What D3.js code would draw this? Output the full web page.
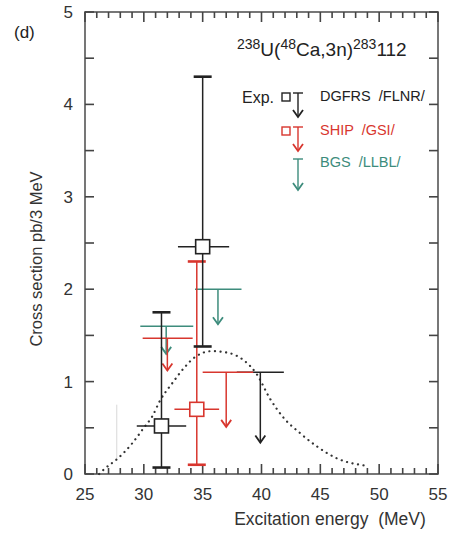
<!DOCTYPE html>
<html>
<head>
<meta charset="utf-8">
<script src="https://cdn.jsdelivr.net/npm/d3@7"></script>
<style>
  body { margin: 0; background: #fff; }
  svg { font-family: "Liberation Sans", Arial, sans-serif; }
  text { white-space: pre; }
</style>
</head>
<body>
<svg id="chart" width="461" height="533"></svg>
<script>
// excitation energy (MeV) / cross section (pb per 3 MeV)
var xTicks = [25, 30, 35, 40, 45, 50, 55];
var yTicks = [0, 1, 2, 3, 4, 5];

// measured points: e, s, horizontal range, vertical range
var dgfrsPoints = [
  { e: 31.5, s: 0.52, eLo: 29.4, eHi: 33.6, sLo: 0.07, sHi: 1.75 },
  { e: 35.0, s: 2.46, eLo: 32.9, eHi: 37.25, sLo: 1.38, sHi: 4.3 }
];
var shipPoints = [
  { e: 34.5, s: 0.70, eLo: 32.6, eHi: 36.4, sLo: 0.10, sHi: 2.30 }
];

// upper limits: bar from eLo..eHi at s, arrow at e going down to "to"
var dgfrsLimits = [
  { e: 39.9, s: 1.1, eLo: 37.9, eHi: 41.9, to: 0.34 }
];
var shipLimits = [
  { e: 32.0, s: 1.47, eLo: 29.9, eHi: 34.15, to: 1.12 },
  { e: 37.0, s: 1.1, eLo: 35.0, eHi: 39.3, to: 0.51 }
];
var bgsLimits = [
  { e: 31.9, s: 1.6, eLo: 29.7, eHi: 34.2, to: 1.30 },
  { e: 36.3, s: 2.0, eLo: 34.35, eHi: 38.3, to: 1.62 }
];

// calculated excitation function (dotted)
var calcCurve = [
  [26.2, 0.0], [26.7, 0.06], [27.8, 0.17], [29.0, 0.33], [30.0, 0.50],
  [30.7, 0.62], [31.4, 0.80], [32.4, 0.98], [33.5, 1.16], [34.4, 1.27],
  [35.8, 1.33], [37.2, 1.31], [38.6, 1.22], [39.6, 1.08], [40.7, 0.82],
  [41.8, 0.62], [43.3, 0.44], [44.7, 0.30], [46.4, 0.17], [48.9, 0.09]
];

// faint stray vertical mark in the scan
var strayMark = [{ e: 27.7, sLo: 0.15, sHi: 0.75 }];

var BLACK = "#222", RED = "#d8362e", TEAL = "#3d8c7c", FRAME = "#555";

var svg = d3.select("#chart");
var plotL = 85, plotR = 438, plotT = 12, plotB = 474;

var x = d3.scaleLinear().domain([25, 55]).range([plotL, plotR]);
var y = d3.scaleLinear().domain([0, 5]).range([plotB, plotT]);

svg.append("rect").attr("x", plotL).attr("y", plotT)
  .attr("width", plotR - plotL).attr("height", plotB - plotT)
  .attr("fill", "none").attr("stroke", FRAME).attr("stroke-width", 1.6);

// inward ticks on all four sides
var minorX = d3.range(25, 56, 1);
var minorY = d3.range(0, 5.01, 0.5);
var tickG = svg.append("g");

[plotB, plotT].forEach(function(edge) {
  var dir = edge === plotB ? -1 : 1;
  tickG.append("g").selectAll("line").data(minorX).enter().append("line")
    .attr("x1", function(d) { return x(d); }).attr("x2", function(d) { return x(d); })
    .attr("y1", edge)
    .attr("y2", function(d) { return edge + dir * (d % 5 === 0 ? 10 : 6); })
    .attr("stroke", "#444").attr("stroke-width", 1.6);
});
[plotL, plotR].forEach(function(edge) {
  var dir = edge === plotL ? 1 : -1;
  tickG.append("g").selectAll("line").data(minorY).enter().append("line")
    .attr("y1", function(d) { return y(d); }).attr("y2", function(d) { return y(d); })
    .attr("x1", edge).attr("x2", edge + dir * 9)
    .attr("stroke", "#444").attr("stroke-width", 1.6);
});

svg.append("g").selectAll("text").data(xTicks).enter().append("text")
  .attr("x", function(d) { return x(d); }).attr("y", 500)
  .attr("text-anchor", "middle").attr("font-size", 17).attr("fill", "#333")
  .text(function(d) { return d; });
svg.append("g").selectAll("text").data(yTicks).enter().append("text")
  .attr("x", 73).attr("y", function(d) { return y(d) + 6; })
  .attr("text-anchor", "end").attr("font-size", 17).attr("fill", "#333")
  .text(function(d) { return d; });

svg.append("text").attr("x", 330).attr("y", 525).attr("text-anchor", "middle")
  .attr("font-size", 17.5).attr("fill", "#333").text("Excitation energy  (MeV)");
svg.append("text").attr("transform", "translate(42,259) rotate(-90)")
  .attr("text-anchor", "middle").attr("font-size", 16.5).attr("fill", "#333")
  .text("Cross section pb/3 MeV");

svg.append("text").attr("x", 14).attr("y", 38).attr("font-size", 17).attr("fill", "#222").text("(d)");

var title = svg.append("text").attr("x", 237).attr("y", 56).attr("font-size", 19).attr("fill", "#222");
title.append("tspan").attr("font-size", 14).attr("dy", -7).text("238");
title.append("tspan").attr("dy", 7).text("U(");
title.append("tspan").attr("font-size", 14).attr("dy", -7).text("48");
title.append("tspan").attr("dy", 7).text("Ca,3n)");
title.append("tspan").attr("font-size", 14).attr("dy", -7).text("283");
title.append("tspan").attr("dy", 7).text("112");

// stray mark
svg.append("g").selectAll("line").data(strayMark).enter().append("line")
  .attr("x1", function(d) { return x(d.e); }).attr("x2", function(d) { return x(d.e); })
  .attr("y1", function(d) { return y(d.sLo); }).attr("y2", function(d) { return y(d.sHi); })
  .attr("stroke", "#d8d8d8").attr("stroke-width", 1);

// dotted curve
svg.append("path").datum(calcCurve)
  .attr("d", d3.line().x(function(d) { return x(d[0]); }).y(function(d) { return y(d[1]); })
    .curve(d3.curveMonotoneX))
  .attr("fill", "none").attr("stroke", "#333").attr("stroke-width", 2.2)
  .attr("stroke-linecap", "round").attr("stroke-dasharray", "0.1,5.5");

function arrowHead(g, cx, cy, color) {
  g.append("path").attr("d", "M" + (cx - 5) + "," + (cy - 7) + "L" + cx + "," + cy + "L" + (cx + 5) + "," + (cy - 7))
    .attr("fill", "none").attr("stroke", color).attr("stroke-width", 1.8);
}

function drawLimits(data, color) {
  var g = svg.append("g");
  data.forEach(function(d) {
    g.append("line").attr("x1", x(d.eLo)).attr("x2", x(d.eHi))
      .attr("y1", y(d.s)).attr("y2", y(d.s)).attr("stroke", color).attr("stroke-width", 1.5);
    g.append("line").attr("x1", x(d.e)).attr("x2", x(d.e))
      .attr("y1", y(d.s)).attr("y2", y(d.to)).attr("stroke", color).attr("stroke-width", 1.5);
    arrowHead(g, x(d.e), y(d.to), color);
  });
}

function drawPoints(data, color) {
  var g = svg.append("g");
  data.forEach(function(d) {
    g.append("line").attr("x1", x(d.e)).attr("x2", x(d.e))
      .attr("y1", y(d.sLo)).attr("y2", y(d.sHi)).attr("stroke", color).attr("stroke-width", 1.5);
    [d.sLo, d.sHi].forEach(function(v) {
      g.append("line").attr("x1", x(d.e) - 9).attr("x2", x(d.e) + 9)
        .attr("y1", y(v)).attr("y2", y(v)).attr("stroke", color).attr("stroke-width", 2.6);
    });
    g.append("line").attr("x1", x(d.eLo)).attr("x2", x(d.eHi))
      .attr("y1", y(d.s)).attr("y2", y(d.s)).attr("stroke", color).attr("stroke-width", 1.5);
    g.append("rect").attr("x", x(d.e) - 7).attr("y", y(d.s) - 7)
      .attr("width", 14).attr("height", 14)
      .attr("fill", "#fff").attr("stroke", color).attr("stroke-width", 1.6);
  });
}

drawLimits(dgfrsLimits, BLACK);
drawLimits(bgsLimits, TEAL);
drawLimits(shipLimits, RED);
drawPoints(shipPoints, RED);
drawPoints(dgfrsPoints, BLACK);

// legend
var legend = [
  { label: "DGFRS  /FLNR/", color: BLACK, square: true, y: 97, arrowTo: 117 },
  { label: "SHIP  /GSI/", color: RED, square: true, y: 131, arrowTo: 151 },
  { label: "BGS  /LLBL/", color: TEAL, square: false, y: 163, arrowTo: 190 }
];
svg.append("text").attr("x", 242).attr("y", 103).attr("font-size", 16).attr("fill", "#222").text("Exp.");
var lg = svg.append("g");
legend.forEach(function(d) {
  var cx = 298;
  lg.append("line").attr("x1", cx - 5).attr("x2", cx + 5).attr("y1", d.y - 4).attr("y2", d.y - 4)
    .attr("stroke", d.color).attr("stroke-width", 1.4);
  lg.append("line").attr("x1", cx).attr("x2", cx).attr("y1", d.y - 4).attr("y2", d.arrowTo)
    .attr("stroke", d.color).attr("stroke-width", 1.4);
  arrowHead(lg, cx, d.arrowTo, d.color);
  if (d.square) {
    lg.append("rect").attr("x", 282).attr("y", d.y - 4).attr("width", 8).attr("height", 8)
      .attr("fill", "#fff").attr("stroke", d.color).attr("stroke-width", 1.4);
  }
  lg.append("text").attr("x", 320).attr("y", d.y + 4).attr("font-size", 14.5)
    .attr("fill", d.color).text(d.label);
});
</script>
</body>
</html>
